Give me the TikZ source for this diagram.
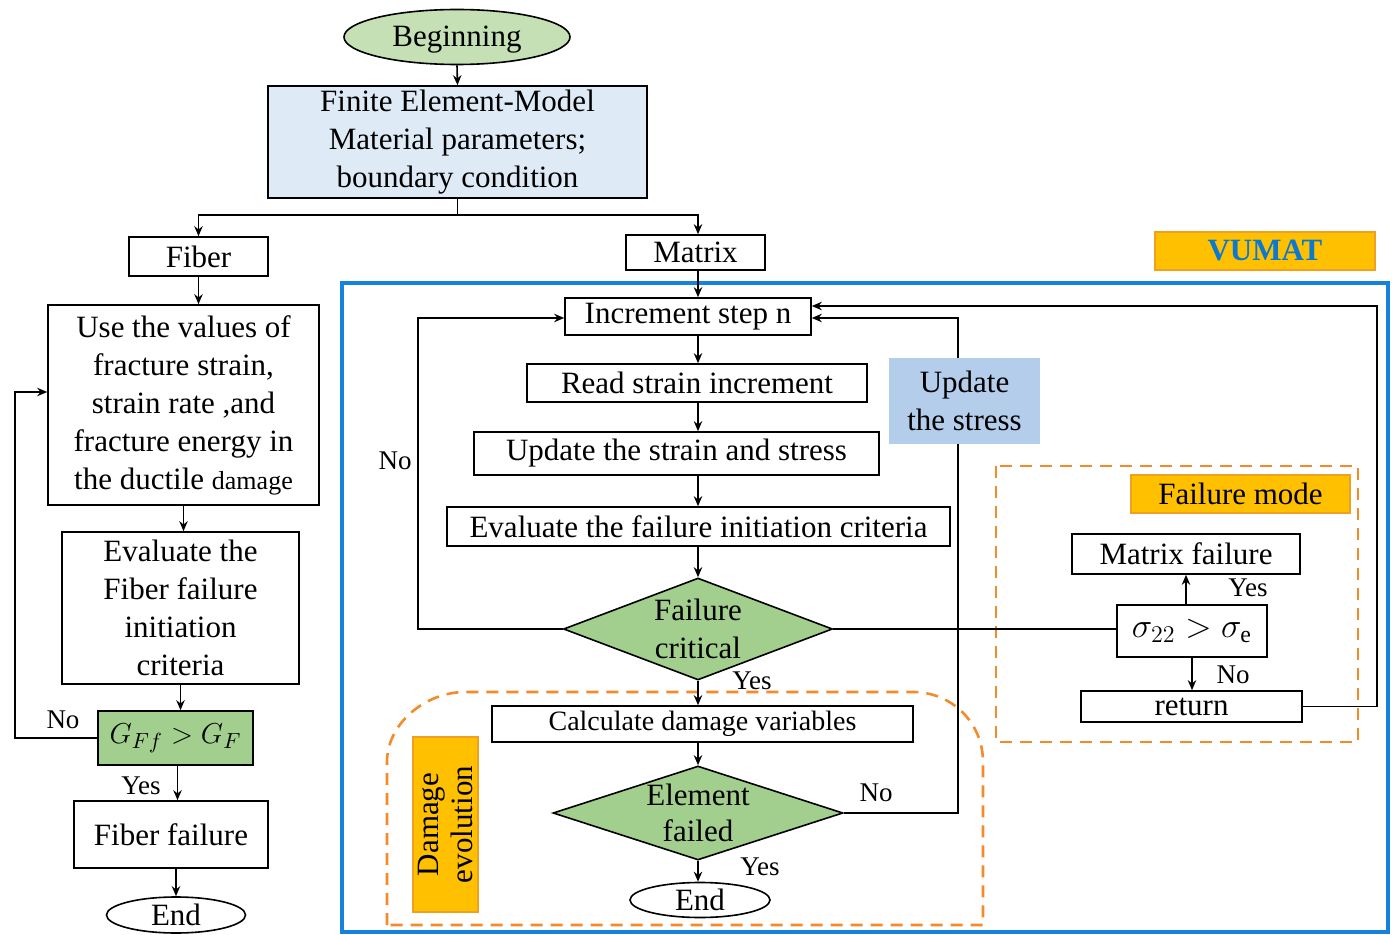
\documentclass[tikz,border=0pt]{standalone}
\usepackage{fontspec}
\setmainfont{Liberation Serif}
\usetikzlibrary{shapes.geometric,arrows.meta}
\definecolor{begG}{HTML}{C5E0B4}
\definecolor{decG}{HTML}{A3CF8E}
\definecolor{femB}{HTML}{DEEBF7}
\definecolor{updB}{HTML}{B3CDEA}
\definecolor{labO}{HTML}{FFC000}
\definecolor{labOd}{HTML}{F0A020}
\definecolor{dashO}{HTML}{F58A2A}
\definecolor{vblue}{HTML}{1583DE}
\definecolor{vtext}{HTML}{0B79D0}
\newcommand\mainfs{\fontsize{15.5}{19}\selectfont}
\newcommand\smallfs{\fontsize{14}{17}\selectfont}
\newcommand\lblfs{\fontsize{13.5}{16}\selectfont}
\newcommand\mathfs{\fontsize{17}{19}\selectfont}
\tikzset{
  corners/.style n args={4}{at={({(#1+#3)/2},{(#2+#4)/2})},
     minimum width={(#3-#1)*0.5pt}, minimum height={(#4-#2)*0.5pt}},
  box/.style={draw=black, line width=0.8pt, inner sep=0pt, align=center, font=\mainfs},
  lab/.style={draw=labOd, fill=labO, line width=0.6pt, inner sep=0pt, align=center, font=\mainfs},
  arr/.style={-{Stealth[length=5pt,width=4.2pt]}, line width=0.8pt},
  conn/.style={line width=0.8pt},
  odash/.style={draw=dashO, line width=1.3pt, dash pattern=on 6pt off 4pt},
  dec/.style={diamond, draw=black, fill=decG, line width=0.8pt, inner sep=0pt},
  term/.style={ellipse, draw=black, line width=0.8pt, inner sep=0pt},
  txt/.style={align=center, font=\mainfs, inner sep=0pt},
  yn/.style={font=\lblfs, inner sep=0pt}
}
\begin{document}
\begin{tikzpicture}[x=0.5pt,y=-0.5pt]
\useasboundingbox (0,0) rectangle (1392,935);

% ---------- VUMAT container ----------
\draw[draw=vblue, line width=1.6pt] (342,283) rectangle (1388,932);
\node[lab, corners={1155}{232}{1375}{270}, text=vtext, font=\mainfs\bfseries] (vum) {VUMAT};

% ---------- dashed groups ----------
\draw[odash] (996,466) rectangle (1358,742);
\draw[odash] (387,925) -- (387,762) .. controls (387,723) and (426,692) .. (465,692)
  -- (913,692) .. controls (952,692) and (983,723) .. (983,762) -- (983,925) -- cycle;

% ---------- top ----------
\node[term, fill=begG, minimum width=113pt, minimum height=27.5pt] (beg) at (457,37) {};
\node[txt] at ([yshift=-1.5pt]beg.center) {Beginning};
\node[box, fill=femB, corners={268}{86}{647}{198}] (fem) {Finite Element-Model\\Material parameters;\\boundary condition};
\node[box, corners={129}{237}{268}{276}] (fiber) {Fiber};
\node[box, corners={626}{235}{765}{270}] (matrix) {Matrix};

% ---------- fiber branch ----------
\node[box, corners={48}{305}{319}{505}] (use) {Use the values of\\fracture strain,\\strain rate ,and\\fracture energy in\\the ductile {\fontsize{13}{19}\selectfont damage}};
\node[box, corners={62}{532}{299}{684}] (evalf) {Evaluate the\\Fiber failure\\initiation\\criteria};
\node[box, fill=decG, corners={98}{711}{253}{765}] (gff) {$G_{Ff} > G_F$};
\node[box, corners={74}{801}{268}{868}] (ffail) {Fiber failure};
\node[term, minimum width=69.5pt, minimum height=18pt] (end1) at (176,915) {};
\node[txt] at (end1) {End};
\coordinate (noL) at (15,392);

% ---------- matrix branch ----------
\node[box, corners={565}{298}{811}{335}] (inc) {Increment step n};
\node[box, corners={527}{364}{867}{402}] (read) {Read strain increment};
\node[box, corners={474}{432}{879}{475}] (upd) {Update the strain and stress};
\node[box, corners={447}{507}{950}{546}] (evc) {Evaluate the failure initiation criteria};
\node[dec, minimum width=134.5pt, minimum height=51pt] (fc) at (698,629) {};
\node[txt] at (fc) {Failure\\critical};
\node[box, corners={492}{706}{913}{742}, font=\smallfs] (calc) {Calculate damage variables};
\node[dec, minimum width=145pt, minimum height=47pt] (ef) at (698,813) {};
\node[txt, font=\fontsize{15.5}{18}\selectfont] at (ef) {Element\\failed};
\node[term, minimum width=70pt, minimum height=17.5pt] (end2) at (700,900) {};
\node[txt] at (end2) {End};
\node[lab, corners={413}{737}{478}{912}] (de) {};
\node[txt, rotate=90, font=\fontsize{15.5}{17}\selectfont] at (de) {Damage\\evolution};
\coordinate (noL2) at (418,318);
\coordinate (upR) at (958,318);
\coordinate (retR) at (1377,306);

% ---------- failure mode ----------
\node[lab, corners={1131}{475}{1350}{513}] (fm) {Failure mode};
\node[box, corners={1072}{534}{1300}{574}] (mf) {Matrix failure};
\node[box, corners={1117}{605}{1267}{657}, font=\mathfs] (sig) {$\sigma_{22} > \sigma_{\mathrm{e}}$};
\node[box, corners={1081}{691}{1302}{722}] (ret) {return};

% ---------- connectors ----------
\draw[arr] (beg.south) -- (fem.north);
\draw[arr] (fem.south) -- ++(0,16) -| (fiber.north);
\draw[arr] (fem.south) -- ++(0,16) -| (fc |- matrix.north);
\draw[arr] (fiber.south) -- (fiber.south |- use.north);
\draw[arr] (use.south) -- (use.south |- evalf.north);
\draw[arr] (evalf.south) -- (evalf.south |- gff.north);
\draw[arr] ([xshift=1pt]gff.south) -- ([xshift=1pt]gff.south |- ffail.north);
\draw[arr] (end1.north |- ffail.south) -- (end1.north);
\draw[arr] (gff.west) -| (noL) -- (noL -| use.west);
\node[yn] at (63,720) {No};
\node[yn] at (141,786) {Yes};

\draw[arr] (fc |- matrix.south) -- (fc |- inc.north);
\draw[arr] (fc |- inc.south) -- (fc |- read.north);
\draw[arr] (fc |- read.south) -- (fc |- upd.north);
\draw[arr] (fc |- upd.south) -- (fc |- evc.north);
\draw[arr] (fc |- evc.south) -- (fc.north);
\draw[arr] (fc.west) -| (noL2) -- (noL2 -| inc.west);
\node[yn] at (395,461) {No};
\draw[conn] (fc.east) -- (fc.east -| sig.west);
\draw[arr] (fc.south) -- (fc.south |- calc.north);
\node[yn] at (752,681) {Yes};
\draw[arr] (fc |- calc.south) -- (ef.north);
\draw[arr] (ef.south) -- (ef.south |- end2.north);
\node[yn] at (760,867) {Yes};
\draw[arr] (ef.east) -| (upR) -- (upR -| inc.east);
\node[yn] at (876,793) {No};
\draw[arr] (ret.east) -| (retR) -- (retR -| inc.east);

\node[fill=updB, corners={889}{358}{1040}{444}, txt] (us) {Update\\the stress};

\draw[arr] (mf.south |- sig.north) -- (mf.south);
\node[yn] at (1248,588) {Yes};
\draw[arr] (sig.south) -- (sig.south |- ret.north);
\node[yn] at (1233,675) {No};
\end{tikzpicture}
\end{document}
